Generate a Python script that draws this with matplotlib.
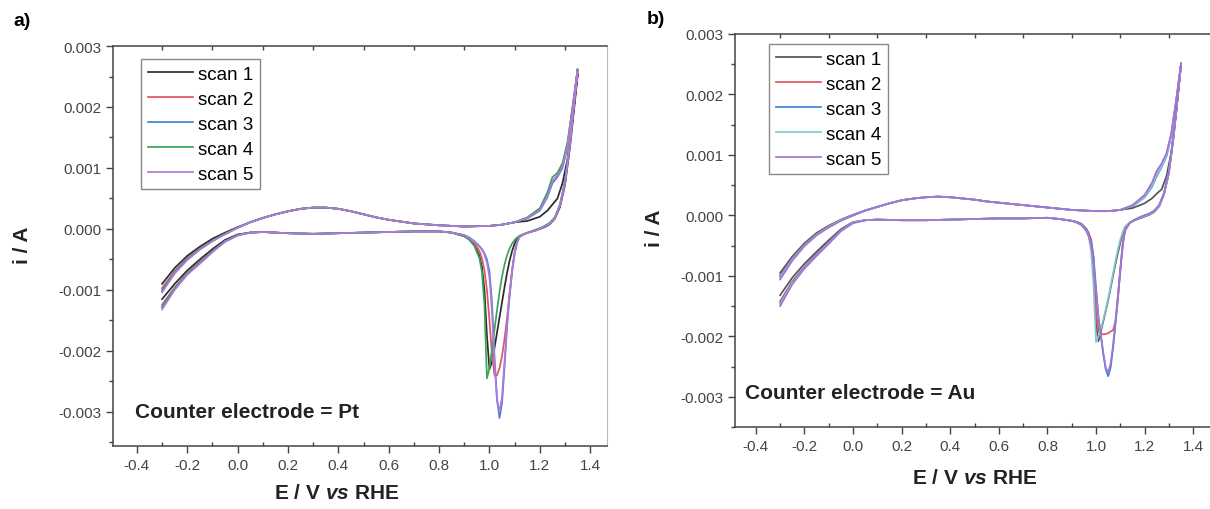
import matplotlib
matplotlib.use("Agg")
import matplotlib.pyplot as plt
from matplotlib.ticker import MultipleLocator

plt.rcParams['font.family'] = ['Liberation Sans', 'DejaVu Sans']
plt.rcParams['mathtext.fontset'] = 'custom'
plt.rcParams['mathtext.rm'] = 'Liberation Sans:bold'
plt.rcParams['mathtext.it'] = 'Liberation Sans:italic:bold'

# ---- potential grids (V vs RHE), shared by all scans ----
E_fwd_low = [-0.30, -0.25, -0.20, -0.15, -0.10, -0.05, 0.00]
E_fwd_mid = [0.05, 0.10, 0.15, 0.20, 0.25, 0.30, 0.35, 0.40, 0.45, 0.50,
             0.55, 0.60, 0.70, 0.80, 0.90, 1.00, 1.05, 1.10]
E_fwd_high = [1.15, 1.20, 1.23, 1.25, 1.27, 1.29, 1.31, 1.33, 1.35]
E_rev_high = [1.35, 1.32, 1.30, 1.28, 1.26, 1.24, 1.22, 1.20, 1.18, 1.16,
              1.14, 1.12, 1.11, 1.10, 1.09, 1.08, 1.07, 1.06, 1.05, 1.04,
              1.03, 1.02, 1.01, 1.00, 0.99, 0.98, 0.97, 0.96, 0.94, 0.92,
              0.90, 0.85]
E_rev_mid = [0.80, 0.70, 0.60, 0.50, 0.40, 0.30, 0.20, 0.10, 0.05]
E_rev_low = [0.00, -0.05, -0.10, -0.15, -0.20, -0.25, -0.30]

scan_labels = ['scan 1', 'scan 2', 'scan 3', 'scan 4', 'scan 5']

# ---- panel a: counter electrode Pt (current in A) ----
a_fwd_mid = [0.00011, 0.00018, 0.00024, 0.00029, 0.00033, 0.00035, 0.00035,
             0.00033, 0.00029, 0.00024, 0.00019, 0.00015, 0.00009, 0.00006,
             0.00004, 0.00005, 0.00007, 0.00011]
a_rev_mid = [-0.00004, -0.00004, -0.00005, -0.00006, -0.00007, -0.00008,
             -0.00007, -0.00005, -0.00006]
a_fwd_low = [
    [-0.00090, -0.00064, -0.00044, -0.00029, -0.00016, -0.00006, 0.00003],
    [-0.00097, -0.00069, -0.00048, -0.00032, -0.00019, -0.00008, 0.00002],
    [-0.00100, -0.00071, -0.00049, -0.00033, -0.00019, -0.00008, 0.00002],
    [-0.00102, -0.00072, -0.00050, -0.00033, -0.00020, -0.00008, 0.00002],
    [-0.00104, -0.00073, -0.00051, -0.00034, -0.00020, -0.00009, 0.00002],
]
a_fwd_high = [
    [0.00013, 0.00020, 0.00030, 0.00040, 0.00050, 0.00075, 0.00115, 0.00180, 0.00255],
    [0.00018, 0.00032, 0.00055, 0.00078, 0.00088, 0.00105, 0.00140, 0.00200, 0.00260],
    [0.00017, 0.00030, 0.00052, 0.00075, 0.00085, 0.00100, 0.00135, 0.00195, 0.00262],
    [0.00019, 0.00034, 0.00060, 0.00085, 0.00092, 0.00108, 0.00142, 0.00200, 0.00262],
    [0.00018, 0.00031, 0.00054, 0.00078, 0.00087, 0.00102, 0.00137, 0.00197, 0.00260],
]
a_rev_high = [
    [0.00250, 0.00135, 0.00072, 0.00036, 0.00017, 0.00008, 0.00003, 0.00000,
     -0.00003, -0.00005, -0.00008, -0.00012, -0.00016, -0.00024, -0.00036,
     -0.00052, -0.00072, -0.00095, -0.00120, -0.00145, -0.00170, -0.00195,
     -0.00218, -0.00230, -0.00175, -0.00100, -0.00062, -0.00044, -0.00026,
     -0.00017, -0.00012, -0.00006],
    [0.00255, 0.00140, 0.00075, 0.00038, 0.00018, 0.00009, 0.00004, 0.00000,
     -0.00003, -0.00005, -0.00008, -0.00012, -0.00020, -0.00038, -0.00066,
     -0.00105, -0.00145, -0.00180, -0.00208, -0.00228, -0.00240, -0.00240,
     -0.00205, -0.00150, -0.00100, -0.00068, -0.00048, -0.00036, -0.00023,
     -0.00016, -0.00011, -0.00006],
    [0.00262, 0.00145, 0.00078, 0.00040, 0.00019, 0.00010, 0.00005, 0.00001,
     -0.00002, -0.00005, -0.00008, -0.00013, -0.00022, -0.00040, -0.00070,
     -0.00110, -0.00160, -0.00225, -0.00285, -0.00310, -0.00280, -0.00210,
     -0.00120, -0.00070, -0.00050, -0.00040, -0.00033, -0.00028, -0.00020,
     -0.00014, -0.00010, -0.00006],
    [0.00262, 0.00145, 0.00078, 0.00040, 0.00019, 0.00010, 0.00005, 0.00001,
     -0.00002, -0.00005, -0.00008, -0.00011, -0.00014, -0.00018, -0.00024,
     -0.00032, -0.00043, -0.00058, -0.00078, -0.00103, -0.00133, -0.00165,
     -0.00198, -0.00228, -0.00245, -0.00125, -0.00070, -0.00048, -0.00028,
     -0.00018, -0.00012, -0.00006],
    [0.00260, 0.00142, 0.00076, 0.00039, 0.00018, 0.00009, 0.00004, 0.00000,
     -0.00003, -0.00005, -0.00008, -0.00013, -0.00022, -0.00040, -0.00068,
     -0.00106, -0.00155, -0.00215, -0.00275, -0.00300, -0.00280, -0.00220,
     -0.00135, -0.00080, -0.00055, -0.00042, -0.00034, -0.00029, -0.00021,
     -0.00015, -0.00010, -0.00006],
]
a_rev_low = [
    [-0.00009, -0.00018, -0.00033, -0.00050, -0.00068, -0.00090, -0.00115],
    [-0.00010, -0.00020, -0.00036, -0.00054, -0.00072, -0.00096, -0.00124],
    [-0.00010, -0.00020, -0.00037, -0.00055, -0.00073, -0.00097, -0.00127],
    [-0.00010, -0.00021, -0.00037, -0.00056, -0.00074, -0.00098, -0.00129],
    [-0.00011, -0.00021, -0.00038, -0.00057, -0.00075, -0.00100, -0.00132],
]

# ---- panel b: counter electrode Au ----
b_fwd_mid = [0.00008, 0.00014, 0.00020, 0.00025, 0.00028, 0.00030, 0.00031,
             0.00030, 0.00028, 0.00026, 0.00023, 0.00021, 0.00017, 0.00013,
             0.00009, 0.00007, 0.00007, 0.00009]
b_rev_mid = [-0.00004, -0.00005, -0.00005, -0.00006, -0.00007, -0.00008,
             -0.00008, -0.00007, -0.00008]
b_fwd_low = [
    [-0.00095, -0.00068, -0.00046, -0.00029, -0.00017, -0.00007, 0.00001],
    [-0.00099, -0.00071, -0.00048, -0.00031, -0.00018, -0.00008, 0.00000],
    [-0.00101, -0.00072, -0.00049, -0.00032, -0.00019, -0.00008, 0.00000],
    [-0.00103, -0.00073, -0.00050, -0.00032, -0.00019, -0.00008, 0.00000],
    [-0.00106, -0.00075, -0.00051, -0.00033, -0.00020, -0.00009, 0.00000],
]
b_fwd_high = [
    [0.00012, 0.00020, 0.00028, 0.00036, 0.00043, 0.00065, 0.00105, 0.00170, 0.00250],
    [0.00016, 0.00032, 0.00050, 0.00068, 0.00082, 0.00100, 0.00135, 0.00190, 0.00250],
    [0.00015, 0.00030, 0.00047, 0.00065, 0.00080, 0.00098, 0.00132, 0.00188, 0.00252],
    [0.00016, 0.00031, 0.00049, 0.00067, 0.00081, 0.00099, 0.00133, 0.00189, 0.00250],
    [0.00017, 0.00034, 0.00054, 0.00074, 0.00086, 0.00103, 0.00137, 0.00192, 0.00252],
]
b_rev_high = [
    [0.00250, 0.00132, 0.00070, 0.00035, 0.00015, 0.00006, 0.00001, -0.00002,
     -0.00005, -0.00008, -0.00012, -0.00020, -0.00030, -0.00045, -0.00062,
     -0.00080, -0.00100, -0.00120, -0.00140, -0.00158, -0.00175, -0.00192,
     -0.00208, -0.00180, -0.00090, -0.00048, -0.00030, -0.00022, -0.00014,
     -0.00011, -0.00009, -0.00006],
    [0.00250, 0.00135, 0.00072, 0.00036, 0.00016, 0.00007, 0.00002, -0.00001,
     -0.00004, -0.00007, -0.00012, -0.00025, -0.00045, -0.00090, -0.00140,
     -0.00175, -0.00190, -0.00192, -0.00195, -0.00196, -0.00197, -0.00195,
     -0.00192, -0.00160, -0.00070, -0.00040, -0.00030, -0.00023, -0.00015,
     -0.00011, -0.00009, -0.00006],
    [0.00252, 0.00137, 0.00074, 0.00037, 0.00017, 0.00008, 0.00003, 0.00000,
     -0.00003, -0.00007, -0.00012, -0.00022, -0.00050, -0.00090, -0.00135,
     -0.00180, -0.00220, -0.00252, -0.00266, -0.00255, -0.00230, -0.00200,
     -0.00170, -0.00120, -0.00070, -0.00045, -0.00032, -0.00024, -0.00015,
     -0.00011, -0.00009, -0.00006],
    [0.00250, 0.00135, 0.00072, 0.00036, 0.00016, 0.00007, 0.00002, -0.00001,
     -0.00004, -0.00007, -0.00011, -0.00018, -0.00027, -0.00040, -0.00056,
     -0.00075, -0.00096, -0.00117, -0.00137, -0.00155, -0.00172, -0.00188,
     -0.00200, -0.00210, -0.00120, -0.00060, -0.00035, -0.00025, -0.00016,
     -0.00012, -0.00009, -0.00006],
    [0.00252, 0.00136, 0.00073, 0.00037, 0.00017, 0.00008, 0.00003, 0.00000,
     -0.00003, -0.00007, -0.00012, -0.00022, -0.00048, -0.00088, -0.00132,
     -0.00175, -0.00215, -0.00245, -0.00260, -0.00252, -0.00228, -0.00198,
     -0.00168, -0.00125, -0.00080, -0.00050, -0.00035, -0.00026, -0.00016,
     -0.00012, -0.00009, -0.00006],
]
b_rev_low = [
    [-0.00011, -0.00023, -0.00041, -0.00060, -0.00080, -0.00103, -0.00132],
    [-0.00012, -0.00025, -0.00044, -0.00064, -0.00085, -0.00109, -0.00142],
    [-0.00012, -0.00025, -0.00045, -0.00065, -0.00086, -0.00111, -0.00145],
    [-0.00012, -0.00026, -0.00046, -0.00066, -0.00087, -0.00112, -0.00147],
    [-0.00013, -0.00026, -0.00047, -0.00067, -0.00088, -0.00114, -0.00150],
]

colors_a = ['#2b2b2b', '#e0555e', '#3f82d6', '#3aa35a', '#b07ad8']
colors_b = ['#555555', '#e0555e', '#3f82d6', '#86c6cf', '#a473d6']

E_loop = E_fwd_low + E_fwd_mid + E_fwd_high + E_rev_high + E_rev_mid + E_rev_low

fig = plt.figure(figsize=(12.1, 5.1), dpi=100)
ax_a = fig.add_axes([0.0934, 0.1235, 0.4083, 0.7843])
ax_b = fig.add_axes([0.6074, 0.1608, 0.3926, 0.7706])


def draw_panel(ax, fwd_low, fwd_mid, fwd_high, rev_high, rev_mid, rev_low,
               colors, xlim, ylim, leg_anchor):
    for k in range(5):
        i_loop = fwd_low[k] + fwd_mid + fwd_high[k] + rev_high[k] + rev_mid + rev_low[k]
        ax.plot(E_loop, i_loop, color=colors[k], lw=1.25, label=scan_labels[k])
    ax.set_xlim(*xlim)
    ax.set_ylim(*ylim)
    ax.xaxis.set_major_locator(MultipleLocator(0.2))
    ax.xaxis.set_minor_locator(MultipleLocator(0.1))
    ax.yaxis.set_major_locator(MultipleLocator(0.001))
    ax.yaxis.set_minor_locator(MultipleLocator(0.0005))
    ax.xaxis.set_major_formatter(lambda v, p: f"{v:.1f}")
    ax.yaxis.set_major_formatter(lambda v, p: f"{v:.3f}")
    ax.tick_params(which='major', direction='out', length=5, width=1,
                   color='#444444', labelcolor='#444444', labelsize=11)
    ax.tick_params(which='minor', direction='out', length=3, width=1, color='#444444')
    ax.tick_params(which='minor', axis='x', top=True, direction='in')
    for s in ['left', 'bottom', 'top']:
        ax.spines[s].set_color('#444444')
        ax.spines[s].set_linewidth(1.1)
    ax.spines['right'].set_color('#bbbbbb')
    leg = ax.legend(loc='upper left', bbox_to_anchor=leg_anchor, borderaxespad=0,
                    fontsize=13.5, handlelength=2.4, handletextpad=0.3,
                    labelspacing=0.42, borderpad=0.35, fancybox=False,
                    framealpha=1, edgecolor='#888888')
    leg.get_frame().set_linewidth(1.0)


draw_panel(ax_a, a_fwd_low, a_fwd_mid, a_fwd_high, a_rev_high, a_rev_mid, a_rev_low,
           colors_a, (-0.495, 1.467), (-0.00356, 0.003), (0.057, 0.9675))
draw_panel(ax_b, b_fwd_low, b_fwd_mid, b_fwd_high, b_rev_high, b_rev_mid, b_rev_low,
           colors_b, (-0.486, 1.469), (-0.0035, 0.003), (0.0716, 0.9746))
ax_b.spines['right'].set_visible(False)

ax_a.text(0.0445, 0.0875, 'Counter electrode = Pt', transform=ax_a.transAxes,
          fontsize=15, fontweight='bold', va='center', ha='left', color='#222222')
ax_b.text(0.021, 0.089, 'Counter electrode = Au', transform=ax_b.transAxes,
          fontsize=15, fontweight='bold', va='center', ha='left', color='#222222')

fig.text(22 / 1210, 1 - 22 / 510, 'a)', fontsize=14, fontweight='bold', ha='center', va='center')
fig.text(656 / 1210, 1 - 20 / 510, 'b)', fontsize=14, fontweight='bold', ha='center', va='center')
fig.text(22 / 1210, 1 - 245 / 510, 'i / A', fontsize=15, fontweight='bold', rotation=90,
         ha='center', va='center', color='#222222')
fig.text(655 / 1210, 1 - 228 / 510, 'i / A', fontsize=15, fontweight='bold', rotation=90,
         ha='center', va='center', color='#222222')
fig.text(337 / 1210, 1 - 494 / 510, r'E / V $\mathit{vs}$ RHE', fontsize=15,
         fontweight='bold', ha='center', va='center', color='#222222')
fig.text(975 / 1210, 1 - 479 / 510, r'E / V $\mathit{vs}$ RHE', fontsize=15,
         fontweight='bold', ha='center', va='center', color='#222222')

fig.savefig('out.png', dpi=100)
